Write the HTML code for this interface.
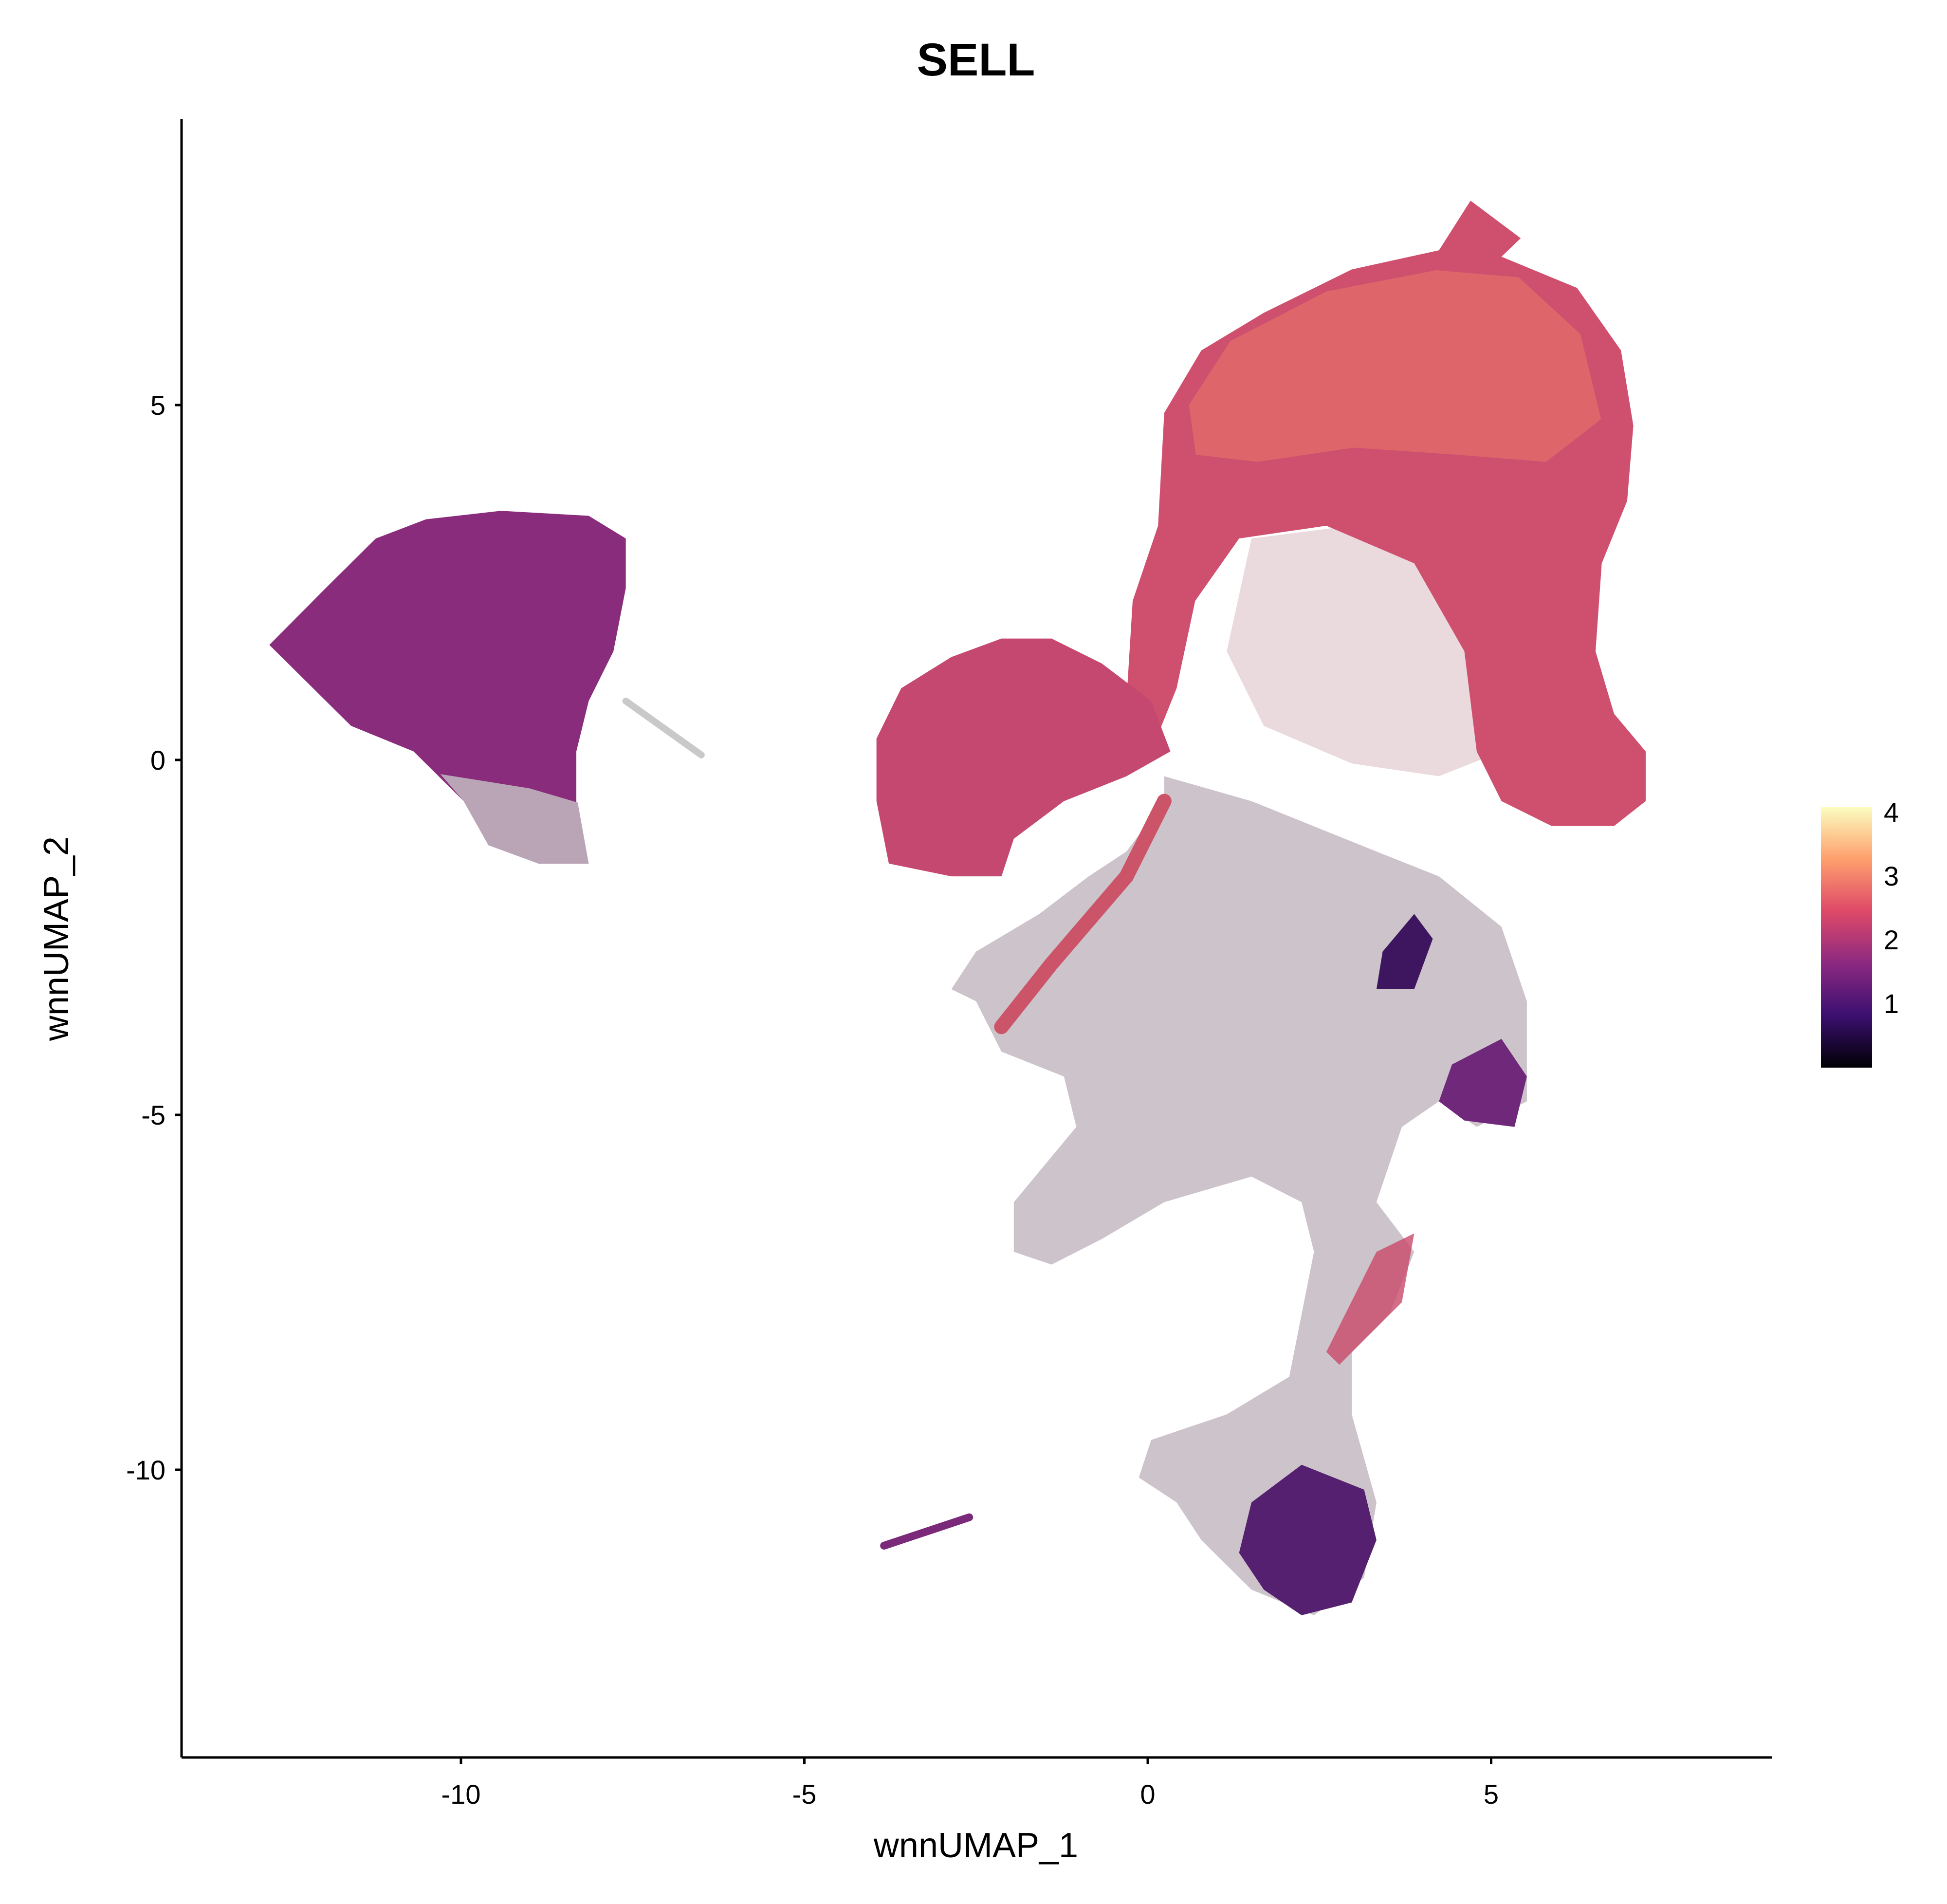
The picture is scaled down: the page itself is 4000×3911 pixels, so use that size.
<!DOCTYPE html>
<html><head><meta charset="utf-8"><style>
html,body{margin:0;padding:0;background:#fff;}
svg{display:block;font-family:"Liberation Sans",sans-serif;}
</style></head><body>
<svg id="chart" width="4000" height="3911" viewBox="0 0 4000 3911">
<defs>
<linearGradient id="magma" x1="0" y1="1" x2="0" y2="0">
<stop offset="0" stop-color="#000004"/><stop offset="0.2" stop-color="#3b0f70"/><stop offset="0.4" stop-color="#8c2981"/><stop offset="0.6" stop-color="#de4968"/><stop offset="0.8" stop-color="#fe9f6d"/><stop offset="1" stop-color="#fcfdbf"/>
</linearGradient>
</defs>
<text x="2005" y="155" text-anchor="middle" font-size="95" font-weight="bold">SELL</text>
<g id="marks"></g>
<g id="axes"></g>
<rect x="3741" y="1658" width="105" height="535" fill="url(#magma)"/>
<g id="legend"></g>
</svg>
<script>
const xTicks=[-10,-5,0,5];
const yTicks=[5,0,-5,-10];
const legendTicks=[1,2,3,4];
const grayRegion=[[0.24,-0.23],[1.51,-0.58],[3.33,-1.29],[4.24,-1.64],[5.15,-2.35],[5.52,-3.40],[5.52,-4.81],[4.79,-5.17],[4.24,-4.81],[3.70,-5.17],[3.33,-6.23],[3.88,-6.93],[3.52,-7.81],[2.97,-8.34],[2.97,-9.22],[3.33,-10.46],[3.15,-11.52],[2.42,-12.05],[1.51,-11.69],[0.78,-10.99],[0.42,-10.46],[-0.13,-10.11],[0.05,-9.58],[1.15,-9.22],[2.06,-8.69],[2.24,-7.81],[2.42,-6.93],[2.24,-6.23],[1.51,-5.87],[0.24,-6.23],[-0.67,-6.75],[-1.40,-7.11],[-1.95,-6.93],[-1.95,-6.23],[-1.04,-5.17],[-1.22,-4.46],[-2.13,-4.11],[-2.50,-3.40],[-2.86,-3.23],[-2.50,-2.70],[-1.58,-2.17],[-0.86,-1.64],[-0.31,-1.29],[0.24,-0.58]];
const interiorRegion=[[1.51,3.12],[2.97,3.30],[4.24,2.95],[5.15,2.24],[5.52,1.18],[5.15,0.12],[4.24,-0.23],[2.97,-0.05],[1.69,0.48],[1.15,1.53]];
const mainTop=[[0.24,4.89],[0.78,5.77],[1.69,6.30],[2.97,6.91],[4.24,7.18],[4.70,7.88],[5.43,7.35],[5.15,7.09],[6.25,6.65],[6.89,5.77],[7.07,4.71],[6.98,3.65],[6.61,2.77],[6.52,1.53],[6.79,0.65],[7.25,0.12],[7.25,-0.58],[6.79,-0.93],[5.88,-0.93],[5.15,-0.58],[4.79,0.12],[4.61,1.53],[3.88,2.77],[2.60,3.30],[1.33,3.12],[0.69,2.24],[0.42,1.01],[0.05,0.12],[-0.31,0.83],[-0.22,2.24],[0.15,3.30]];
const mainCore=[[0.6,5.0],[1.2,5.9],[2.6,6.6],[4.2,6.9],[5.4,6.8],[6.3,6.0],[6.6,4.8],[5.8,4.2],[4.5,4.3],[3.0,4.4],[1.6,4.2],[0.7,4.3]];
const leftCluster=[[-12.79,1.62],[-11.97,2.42],[-11.24,3.12],[-10.51,3.39],[-9.42,3.51],[-8.14,3.44],[-7.60,3.12],[-7.60,2.42],[-7.78,1.53],[-8.14,0.83],[-8.32,0.12],[-8.32,-0.76],[-8.14,-1.46],[-8.87,-1.46],[-9.60,-1.20],[-9.96,-0.58],[-10.69,0.12],[-11.60,0.48],[-12.33,1.18]];
const leftGray=[[-10.3,-0.2],[-9.0,-0.4],[-8.3,-0.6],[-8.14,-1.46],[-8.87,-1.46],[-9.60,-1.20],[-9.96,-0.58]];
const midBlob=[[-3.95,0.30],[-3.59,1.01],[-2.86,1.45],[-2.13,1.71],[-1.40,1.71],[-0.67,1.36],[0.05,0.83],[0.33,0.12],[-0.31,-0.23],[-1.22,-0.58],[-1.95,-1.11],[-2.13,-1.64],[-2.86,-1.64],[-3.77,-1.46],[-3.95,-0.58]];
const bottomBlob=[[1.33,-11.17],[1.51,-10.46],[2.24,-9.93],[3.15,-10.28],[3.33,-10.99],[2.97,-11.87],[2.24,-12.05],[1.69,-11.69]];
const rightCluster=[[4.43,-4.29],[5.15,-3.93],[5.52,-4.46],[5.34,-5.17],[4.61,-5.08],[4.24,-4.81]];
const darkPatch=[[3.42,-2.70],[3.88,-2.17],[4.15,-2.52],[3.88,-3.23],[3.33,-3.23]];
const redStripe=[[2.60,-8.34],[3.33,-6.93],[3.88,-6.67],[3.70,-7.64],[2.79,-8.52]];
const leftArm=[[-2.13,-3.76],[-1.40,-2.87],[-0.31,-1.64],[0.24,-0.58]];
const leftTail=[[-7.60,0.83],[-6.5,0.07]];
const smallStreak=[[-3.84,-11.07],[-2.6,-10.67]];
const X=v=>2358+v*141.1, Y=v=>1561-v*145.8;
const NS="http://www.w3.org/2000/svg";
const marks=document.getElementById('marks');
function poly(pts,fill,name,op){const p=document.createElementNS(NS,'polygon');p.setAttribute('points',pts.map(d=>X(d[0])+','+Y(d[1])).join(' '));p.setAttribute('fill',fill);if(op)p.setAttribute('fill-opacity',op);


marks.appendChild(p);}
function line(pts,col,w,name){const p=document.createElementNS(NS,'polyline');p.setAttribute('points',pts.map(d=>X(d[0])+','+Y(d[1])).join(' '));p.setAttribute('stroke',col);p.setAttribute('stroke-width',w);p.setAttribute('fill','none');p.setAttribute('stroke-linecap','round');


marks.appendChild(p);}
poly(grayRegion,'#cdc3cb','gray-cells');
poly(interiorRegion,'#ead9dd','interior-cells');
poly(mainTop,'#cf4f6e','main-cluster');
poly(mainCore,'#e06a6a','main-cluster-core',0.85);
poly(leftCluster,'#8a2c7c','left-cluster');
poly(leftGray,'#b9a5b6','left-cluster-gray');
poly(midBlob,'#c4486f','middle-cluster');
poly(bottomBlob,'#55206f','bottom-cluster');
poly(rightCluster,'#70287a','right-cluster');
poly(darkPatch,'#3e1660','dark-patch');
poly(redStripe,'#c94a6a','red-stripe',0.8);
line(leftArm,'#cc5468',30,'left-arm');
line(leftTail,'#c9c9c9',14,'left-tail');
line(smallStreak,'#7a2a78',16,'small-streak');
const ax=document.getElementById('axes');
function el(t,a,name,txt){const e=document.createElementNS(NS,t);for(const k in a)e.setAttribute(k,a[k]);if(txt!==undefined)e.textContent=txt;


ax.appendChild(e);return e;}
el('line',{x1:373,y1:244,x2:373,y2:3610,stroke:'#000','stroke-width':5},'y-axis-line');
el('line',{x1:373,y1:3610,x2:3641,y2:3610,stroke:'#000','stroke-width':5},'x-axis-line');
xTicks.forEach(t=>{el('line',{x1:X(t),y1:3610,x2:X(t),y2:3624,stroke:'#000','stroke-width':5},'x-tick');
el('text',{x:X(t),y:3705,'text-anchor':'middle','font-size':56},'x-tick-label',String(t));});
yTicks.forEach(t=>{el('line',{x1:359,y1:Y(t),x2:373,y2:Y(t),stroke:'#000','stroke-width':5},'y-tick');
el('text',{x:340,y:Y(t)+20,'text-anchor':'end','font-size':56},'y-tick-label',String(t));});
el('text',{x:2005,y:3815,'text-anchor':'middle','font-size':72},'x-axis-title','wnnUMAP_1');
el('text',{x:140,y:1928,'text-anchor':'middle','font-size':72,transform:'rotate(-90 140 1928)'},'y-axis-title','wnnUMAP_2');
const lg=document.getElementById('legend');
const LY=v=>2193-v*131;
legendTicks.forEach(t=>{const e=document.createElementNS(NS,'text');e.setAttribute('x',3870);e.setAttribute('y',LY(t)+19);e.setAttribute('font-size',56);e.textContent=String(t);


lg.appendChild(e);});
</script>
</body></html>
